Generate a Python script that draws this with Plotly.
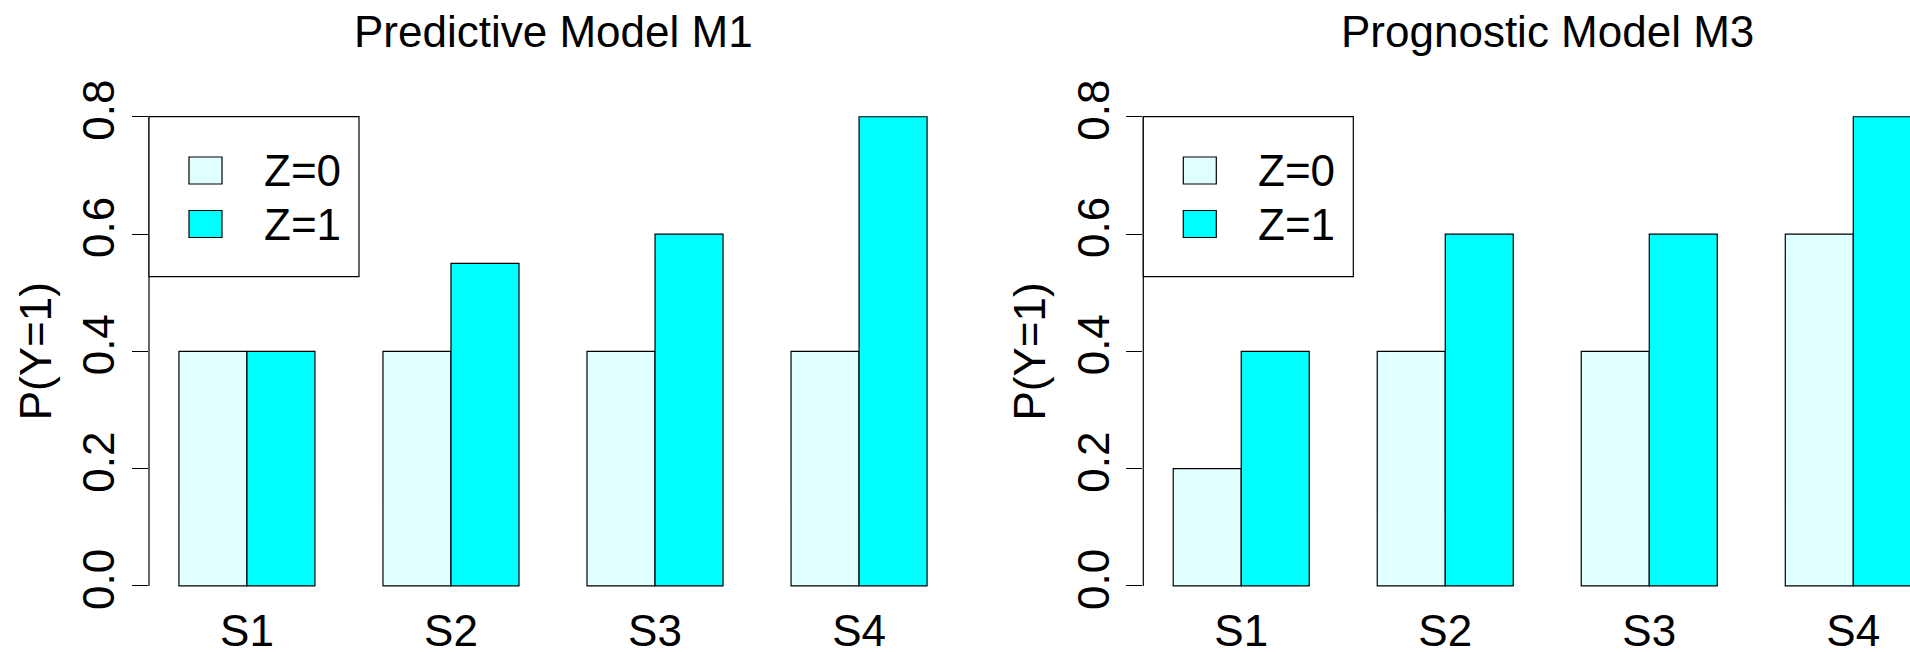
import plotly.graph_objects as go

# Strata and probabilities P(Y=1) by treatment arm
strata = ["S1", "S2", "S3", "S4"]
m1_z0 = [0.4, 0.4, 0.4, 0.4]
m1_z1 = [0.4, 0.55, 0.6, 0.8]
m3_z0 = [0.2, 0.4, 0.4, 0.6]
m3_z1 = [0.4, 0.6, 0.6, 0.8]
y_ticks = [0.0, 0.2, 0.4, 0.6, 0.8]
arm_labels = ["Z=0", "Z=1"]
titles = ["Predictive Model M1", "Prognostic Model M3"]

W, H = 1910, 652
FONT = "Liberation Sans, Arial, sans-serif"
FS = 44
LW = 1.2
COL_Z0 = "#E0FFFF"
COL_Z1 = "#00FFFF"


def px(x):
    return x / W


def py(y):
    return 1 - y / H


# pixel geometry of the two panels
PANEL_LEFT = [149.0, 1143.3]
PANEL_RIGHT = [957.0, 1910.0]
Y_TOP, Y_BOT = 105.0, 597.7            # plot area (y range -0.02 .. 0.82)
X_RANGES = [[-0.48, 3.48], [-0.48, 3.278]]

fig = go.Figure()

panels = [(m1_z0, m1_z1), (m3_z0, m3_z1)]
for i, (z0, z1) in enumerate(panels):
    xa = "x" if i == 0 else "x2"
    ya = "y" if i == 0 else "y2"
    for vals, col, name in ((z0, COL_Z0, arm_labels[0]), (z1, COL_Z1, arm_labels[1])):
        fig.add_trace(go.Bar(
            x=strata, y=vals, name=name, xaxis=xa, yaxis=ya,
            marker=dict(color=col, line=dict(color="black", width=LW)),
            showlegend=False, hoverinfo="skip",
        ))

axis_common_x = dict(
    type="category", showgrid=False, zeroline=False, showline=False,
    ticks="", tickfont=dict(family=FONT, size=FS, color="black"),
    ticklabelstandoff=3, automargin=False,
)
axis_common_y = dict(
    range=[-0.02, 0.82], showgrid=False, zeroline=False, showline=False,
    ticks="outside", ticklen=16, tickwidth=LW, tickcolor="black",
    tickvals=y_ticks, ticktext=[f"{v:.1f}" for v in y_ticks],
    tickangle=-90, tickfont=dict(family=FONT, size=FS, color="black"),
    domain=[py(Y_BOT), py(Y_TOP)], automargin=False,
)

fig.update_layout(
    width=W, height=H,
    margin=dict(l=0, r=0, t=0, b=0, autoexpand=False),
    paper_bgcolor="white", plot_bgcolor="white",
    barmode="group", bargap=1 / 3, bargroupgap=0,
    xaxis=dict(domain=[px(PANEL_LEFT[0]), px(PANEL_RIGHT[0])], range=X_RANGES[0],
               anchor="y", **axis_common_x),
    xaxis2=dict(domain=[px(PANEL_LEFT[1]), px(PANEL_RIGHT[1])], range=X_RANGES[1],
                anchor="y2", **axis_common_x),
    yaxis=dict(anchor="x", **axis_common_y),
    yaxis2=dict(anchor="x2", **axis_common_y),
    showlegend=False,
)

shapes = []
annotations = []
for i in range(2):
    off = PANEL_LEFT[i] - PANEL_LEFT[0]
    xd = "x domain" if i == 0 else "x2 domain"
    yr = "y" if i == 0 else "y2"
    # y axis line from 0 to 0.8
    shapes.append(dict(type="line", xref=xd, yref=yr, x0=0, x1=0,
                       y0=y_ticks[0], y1=y_ticks[-1],
                       line=dict(color="black", width=LW)))
    # legend box
    shapes.append(dict(type="rect", xref="paper", yref="paper",
                       x0=px(149 + off), x1=px(359 + off),
                       y0=py(276.7), y1=py(116.7),
                       line=dict(color="black", width=LW), fillcolor="white"))
    for k, (col, cy) in enumerate(((COL_Z0, 170.5), (COL_Z1, 224.0))):
        shapes.append(dict(type="rect", xref="paper", yref="paper",
                           x0=px(189 + off), x1=px(222 + off),
                           y0=py(cy + 13.5), y1=py(cy - 13.5),
                           line=dict(color="black", width=LW), fillcolor=col))
        annotations.append(dict(text=arm_labels[k], xref="paper", yref="paper",
                                x=px(262 + off), y=py(cy), xanchor="left",
                                yanchor="middle", showarrow=False,
                                font=dict(family=FONT, size=FS, color="black")))
    # panel title
    centre = (PANEL_LEFT[i] + PANEL_LEFT[i] + 808) / 2
    annotations.append(dict(text=titles[i], xref="paper", yref="paper",
                            x=px(centre), y=py(31), xanchor="center",
                            yanchor="middle", showarrow=False,
                            font=dict(family=FONT, size=FS, color="black")))
    # y axis label
    annotations.append(dict(text="P(Y=1)", xref="paper", yref="paper",
                            x=px(35 + off), y=py(351.3), xanchor="center",
                            yanchor="middle", textangle=-90, showarrow=False,
                            font=dict(family=FONT, size=FS, color="black")))

fig.update_layout(shapes=shapes, annotations=annotations)
fig.write_html("out.html")
